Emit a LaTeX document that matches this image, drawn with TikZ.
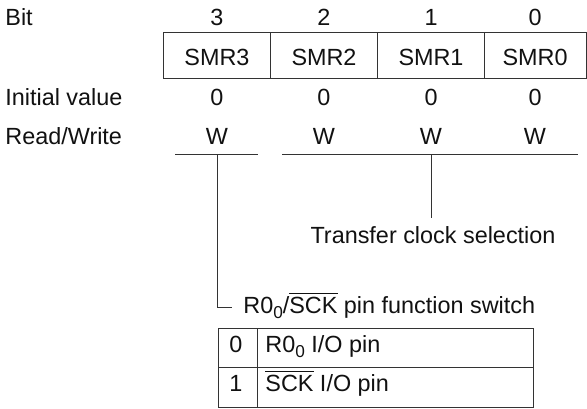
\documentclass[tikz,border=0pt]{standalone}
\usepackage{fontspec}
\setmainfont{Liberation Sans}
\usepackage{tikz}
\usepackage{xcolor}
\usetikzlibrary{positioning}
\definecolor{linegray}{HTML}{333333}
\definecolor{textblack}{HTML}{111111}
\newcommand{\ovl}[1]{$\overline{\mbox{#1}}$}
\newcommand{\sub}[1]{\raisebox{-0.45ex}{\fontsize{8.6}{9}\selectfont #1}}

\begin{document}
\begin{tikzpicture}[x=0.5pt, y=-0.5pt,
            lbl/.style={font=\fontsize{11.7}{13}\selectfont, text=textblack, inner sep=0pt},
            rule/.style={draw=linegray, line width=0.5pt}]
            \useasboundingbox (0,0) rectangle (587,408);
            % row labels
            \node[lbl, anchor=base west] (bitlbl) at (5,25) {Bit};
            \node[lbl, anchor=base west] (initlbl) at (5,105) {Initial value};
            \node[lbl, anchor=base west] (rwlbl) at (5,144) {Read/Write};
            % register
            \draw[rule] (163,32.3) rectangle (586,78.3);
            \foreach \x in {270.5,377.5,484.5}
                \draw[rule] (\x,32.3) -- (\x,78.3);
            \foreach \b/\x in {3/217,2/324,1/431,0/535} {
                \node[lbl, anchor=base] (bit\b) at (\x,25) {\b};
                \node[lbl, anchor=base] (smr\b) at (\x,65) {SMR\b};
                \node[lbl, anchor=base] (init\b) at (\x,105) {0};
                \node[lbl, anchor=base] (rw\b) at (\x,144) {W};
            }
            % brackets under W
            \coordinate (swl) at (175,154);
            \coordinate (swr) at (258,154);
            \coordinate (ckl) at (282,154);
            \coordinate (ckr) at (578,154);
            \coordinate (swdrop) at (217.7,154);
            \coordinate (ckdrop) at (431,154);
            \draw[rule] (swl) -- (swr);
            \draw[rule] (ckl) -- (ckr);
            % clock selection
            \node[lbl, anchor=base] (cksel) at (433,243.5) {Transfer clock selection};
            \draw[rule] (ckdrop) -- ++(0,64);
            % pin function switch
            \node[lbl, anchor=base west] (swtxt) at (243,313) {R0\sub{0}/\ovl{SCK} pin function switch};
            \coordinate (swend) at (232,307);
            \draw[rule] (swdrop) |- (swend);
            % selection table
            \draw[rule] (218,328) rectangle (533,407);
            \draw[rule] (218,367) -- (533,367);
            \draw[rule] (257,328) -- (257,407);
            \node[lbl, anchor=base] (sel0) at (236,352) {0};
            \node[lbl, anchor=base west] (pin0) at (265,352) {R0\sub{0} I/O pin};
            \node[lbl, anchor=base] (sel1) at (236,391) {1};
            \node[lbl, anchor=base west] (pin1) at (265,391) {\ovl{SCK} I/O pin};
        \end{tikzpicture}
\end{document}
